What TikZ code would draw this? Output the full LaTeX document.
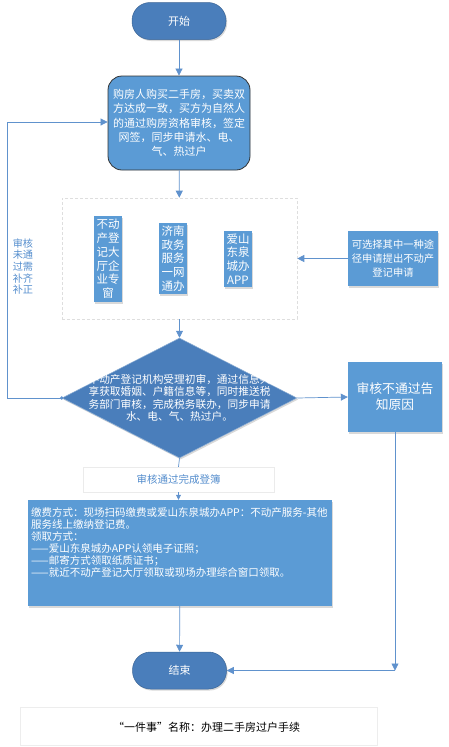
\documentclass[tikz,border=0pt]{standalone}
\usepackage{fontspec}
\setmainfont{Noto Sans CJK SC}
\usetikzlibrary{arrows.meta,shapes.geometric,shadows}
\definecolor{darkfill}{RGB}{74,126,187}
\definecolor{boxfill}{RGB}{91,155,213}
\definecolor{linec}{RGB}{96,146,205}
\definecolor{labelc}{RGB}{84,141,205}
\tikzset{
  sh/.style={drop shadow={shadow xshift=1.2pt,shadow yshift=-1.5pt,fill=black!25,opacity=.6}},
  terminal/.style={draw=darkfill!80!black,line width=0.5pt,fill=darkfill,rounded corners=18pt,minimum width=94pt,minimum height=37pt,text=white,font=\fontsize{11}{13}\selectfont,sh},
  bluebox/.style={fill=boxfill,text=white,inner sep=0pt,align=center,sh},
  arr/.style={draw=linec,line width=0.7pt,-{Triangle[width=7pt,length=7pt]}},
  ln/.style={draw=linec,line width=0.7pt},
}
\begin{document}
\begin{tikzpicture}[x=1pt,y=-1pt]
\useasboundingbox (0,0) rectangle (448,747);
% start
\node[terminal] (start) at (179,21) {开始};
% box 1
\node[draw=black!80,line width=0.8pt,fill=boxfill,rounded corners=14pt,minimum width=142pt,minimum height=94pt,text=white,align=center,inner sep=0pt,font=\fontsize{11}{14.2}\selectfont] (box1) at (179,123)
 {购房人购买二手房，买卖双\\方达成一致，买方为自然人\\的通过购房资格审核，签定\\网签，同步申请水、电、\\气、热过户};
% dashed option area
\node[draw=black!13,dash pattern=on 3pt off 2pt,line width=0.6pt,minimum width=235pt,minimum height=121pt,inner sep=0pt] (opt) at (179.5,258.5) {};
\node[bluebox,minimum width=28pt,minimum height=86pt,font=\fontsize{11.5}{13.8}\selectfont] (ca) at (108,259) {不动\\产登\\记大\\厅企\\业专\\窗};
\node[bluebox,minimum width=28pt,minimum height=71pt,font=\fontsize{11.5}{13.8}\selectfont] (cb) at (173,258.5) {济南\\政务\\服务\\一网\\通办};
\node[bluebox,minimum width=28pt,minimum height=56pt,font=\fontsize{11.5}{13.8}\selectfont] (cc) at (238,259) {爱山\\东泉\\城办\\APP};
% choose box
\node[bluebox,minimum width=90pt,minimum height=55pt,font=\fontsize{10.3}{13.8}\selectfont] (choose) at (393,258.5) {可选择其中一种途\\径申请提出不动产\\登记申请};
% diamond
\node[diamond,fill=darkfill,draw=darkfill!60,line width=0.5pt,minimum width=235pt,minimum height=120pt,inner sep=0pt,sh] (dia) at (179.5,398) {};
\node[text=white,align=center,inner sep=0pt,font=\fontsize{10.7}{12.6}\selectfont] (diatext) at (179.5,398) {不动产登记机构受理初审，通过信息共\\享获取婚姻、户籍信息等，同时推送税\\务部门审核，完成税务联办，同步申请\\水、电、气、热过户。};
% fail box
\node[bluebox,minimum width=94pt,minimum height=70pt,font=\fontsize{12.8}{16}\selectfont] (fail) at (395,397) {审核不通过告\\知原因};
% pass box
\node[draw=black!8,fill=white,minimum width=191pt,minimum height=25pt,inner sep=0pt,text=labelc,font=\fontsize{10.5}{12}\selectfont,drop shadow={shadow xshift=0.8pt,shadow yshift=-0.8pt,fill=black!8,opacity=.6}] (pass) at (178.5,479.5) {审核通过完成登簿};
% big box
\node[bluebox,minimum width=304pt,minimum height=106pt] (big) at (180,553) {};
\node[text=white,align=left,anchor=north west,inner sep=0pt,font=\fontsize{10.5}{12}\selectfont] (bigtext) at (31,507)
 {缴费方式：现场扫码缴费或爱山东泉城办APP：不动产服务-其他\\服务线上缴纳登记费。\\领取方式：\\——爱山东泉城办APP认领电子证照；\\——邮寄方式领取纸质证书；\\——就近不动产登记大厅领取或现场办理综合窗口领取。};
% end
\node[terminal] (end) at (179.5,670.5) {结束};
% bottom label
\node[draw=black!7,minimum width=357pt,minimum height=38pt,inner sep=0pt] (namebox) at (198.5,726) {};
\node[anchor=west,inner sep=0pt,font=\fontsize{11}{13}\selectfont] (nametext) at (113,727) {“一件事”名称：办理二手房过户手续};
% left label
\node[text=labelc,align=center,inner sep=0pt,font=\fontsize{10.2}{11.6}\selectfont] (back) at (23,266.5) {审核\\未通\\过需\\补齐\\补正};
% connectors
\draw[arr] (start) -- (box1);
\draw[arr] (box1) -- (opt);
\draw[arr] (choose.west) -- (choose.west -| opt.east);
\draw[arr] (opt) -- (dia.north);
\draw[arr] (dia.east) -- (fail.west);
\draw[ln] (dia.south) -- (pass.north);
\draw[draw=linec,line width=0.7pt,-{Triangle[width=5pt,length=5pt]}] (pass.south) -- (pass.south |- big.north);
\draw[arr] (big) -- (end);
\coordinate (fbL) at (7,398);
\coordinate (fbT) at (7,122);
\fill[linec] (dia.west) circle (1.8pt);
\draw[arr] (dia.west) -- (fbL) -- (fbT) -- (fbT -| box1.west);
\coordinate (fc) at (fail.south |- end.east);
\draw[arr] (fail.south) -- (fc);
\draw[arr] (fc) -- (end.east);
\end{tikzpicture}
\end{document}
